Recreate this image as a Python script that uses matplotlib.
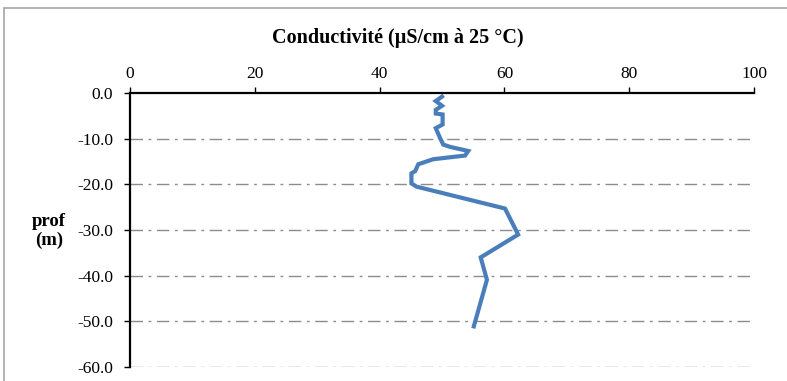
import matplotlib.pyplot as plt
from matplotlib.patches import Rectangle

# conductivity profile (µS/cm at 25 °C) vs depth (m)
conductivite = [50.0, 49.0, 50.0, 49.0, 49.0, 50.1, 50.1, 49.0, 49.7, 50.2, 51.3,
                54.2, 53.7, 48.6, 46.2, 45.7, 45.1, 45.1, 45.9, 60.1, 62.2, 56.2,
                57.2, 55.1]
profondeur = [-0.8, -1.75, -2.8, -3.7, -4.5, -4.7, -6.9, -7.7, -9.9, -11.3, -11.8,
              -12.7, -13.7, -14.5, -15.6, -17.1, -17.6, -19.8, -20.5, -25.3, -31.0,
              -36.0, -40.9, -51.1]
xticks = [0, 20, 40, 60, 80, 100]
yticks = [0, -10, -20, -30, -40, -50, -60]

plt.rcParams['font.family'] = ['Liberation Serif', 'DejaVu Serif']

fig = plt.figure(figsize=(7.87, 3.81), dpi=100)
ax = fig.add_axes([130/787, 1 - 367/381, 624/787, 274/381])

fig.patches.append(Rectangle((4/787, -0.1), 1.2, 1 - 8/381 + 0.1,
                             transform=fig.transFigure, fill=False,
                             edgecolor='#a6a6a6', linewidth=1.2))

ax.plot(conductivite, profondeur, color='#4a7ebb', linewidth=3,
        solid_joinstyle='miter')

ax.set_xlim(0, 100)
ax.set_ylim(-60, 0)
ax.set_xticks(xticks)
ax.set_yticks(yticks)
ax.set_yticklabels([f'{v:.1f}' for v in yticks])
ax.xaxis.tick_top()
ax.tick_params(axis='both', labelsize=12.5, length=4, width=1, direction='out')
ax.tick_params(axis='x', pad=4)
ax.tick_params(axis='y', pad=8)

for v in yticks[1:]:
    ax.axhline(v, color='#8c8c8c', linewidth=1, linestyle=(0, (9, 4, 2, 4)),
               zorder=0)

for side in ['right', 'bottom']:
    ax.spines[side].set_visible(False)
ax.spines['top'].set_linewidth(1.6)
ax.spines['left'].set_linewidth(1.6)

fig.text(0.505, 1 - 38/381, 'Conductivité (µS/cm à 25 °C)', ha='center',
         va='center', fontsize=14.5, fontweight='bold')
fig.text(49/787, 1 - 231/381, 'prof\n(m)', ha='center', va='center',
         fontsize=13.5, fontweight='bold', linespacing=1.2)

fig.savefig('out.png', dpi=100)
